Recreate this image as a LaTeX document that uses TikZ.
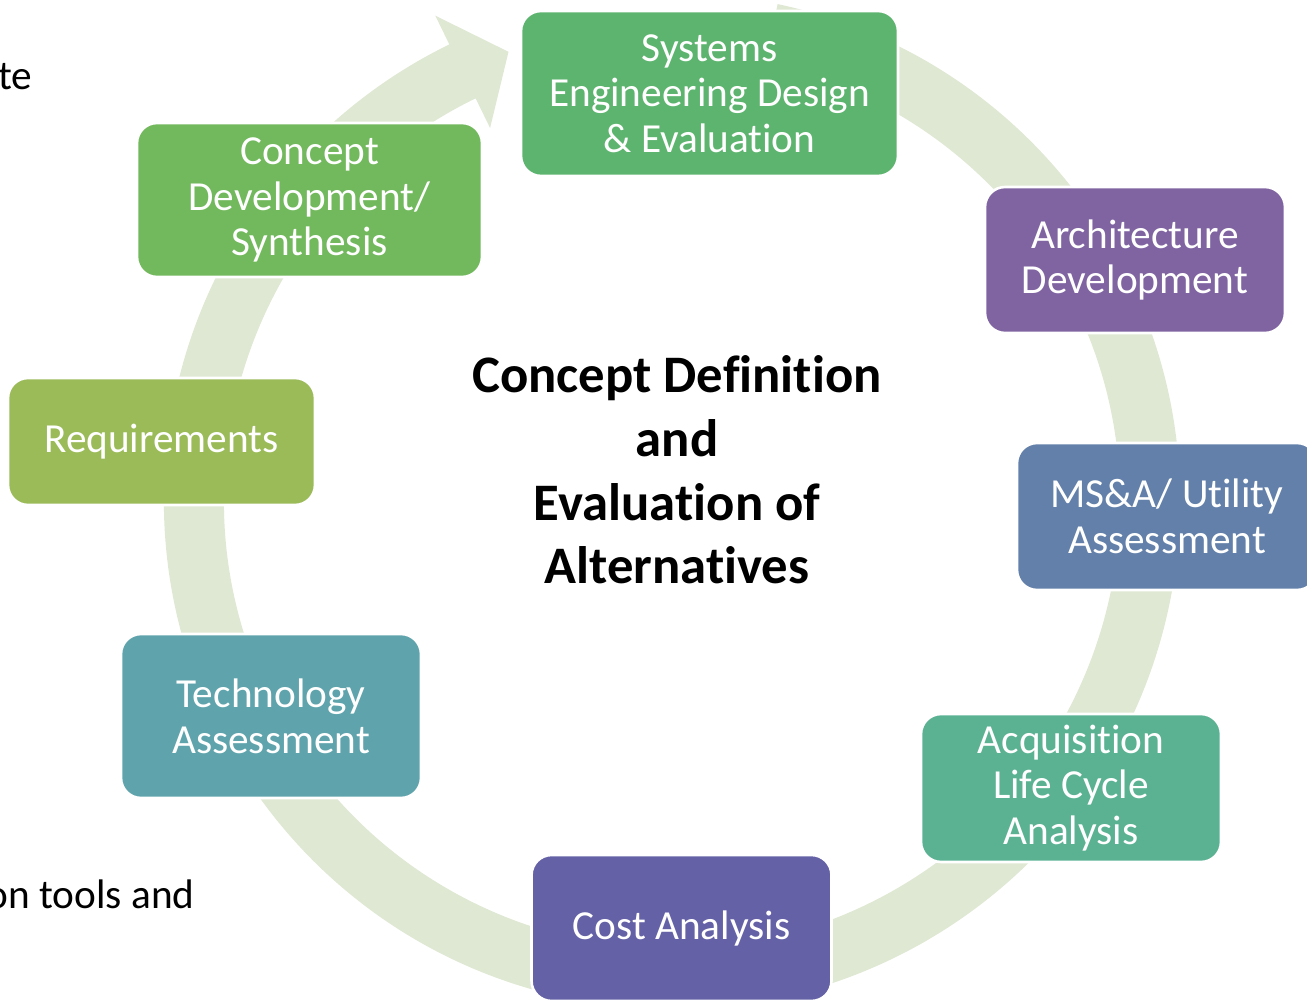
\documentclass[tikz,border=0pt]{standalone}
\usepackage{fontspec}
\setmainfont{Carlito}[Ligatures=NoCommon]
\usepackage{tikz}
\usetikzlibrary{positioning}
\definecolor{ringgreen}{RGB}{223,232,211}
\definecolor{sysgreen}{RGB}{93,180,111}
\definecolor{archpurple}{RGB}{128,100,161}
\definecolor{msablue}{RGB}{98,128,169}
\definecolor{acqteal}{RGB}{91,178,147}
\definecolor{costviolet}{RGB}{100,97,166}
\definecolor{techteal}{RGB}{95,164,172}
\definecolor{reqolive}{RGB}{155,187,89}
\definecolor{cdevgreen}{RGB}{114,184,92}
\tikzstyle{stage} = [rectangle, draw=white, line width=1.5pt, rounded corners=0.4cm, text=white, align=center, font=\fontsize{23.5}{26}\selectfont, minimum width=6cm, minimum height=2.92cm, inner sep=2pt]

\begin{document}
\begin{tikzpicture}[x=0.02cm, y=0.02cm]
    \useasboundingbox (0,0) rectangle (1307,1001);

    % Cycle ring
    \fill[ringgreen, shift={(672,500)}] (78:508) arc[start angle=78, end angle=-244, radius=508] -- (-244:540) -- (-250:478) -- (-244:415) -- (-244:448) arc[start angle=-244, end angle=78, radius=448] -- cycle;

    % Stages
    \node[stage, fill=sysgreen, minimum width=7.54cm, minimum height=3.3cm] (sys) at (709.5,907.5) {Systems\\Engineering Design\\\& Evaluation};

    \node[stage, fill=archpurple] (arch) at (1135,741) {Architecture\\Development};

    \node[stage, fill=msablue, minimum height=2.94cm] (msa) at (1167,484.5) {MS\&A/ Utility\\Assessment};

    \node[stage, fill=acqteal, minimum height=2.96cm] (acq) at (1071,213) {Acquisition\\Life Cycle\\Analysis};

    \node[stage, fill=costviolet] (cost) at (681.5,73) {Cost Analysis};

    \node[stage, fill=techteal, minimum height=3.28cm] (tech) at (271,285) {Technology\\Assessment};

    \node[stage, fill=reqolive, minimum width=6.14cm, minimum height=2.54cm] (req) at (161.5,559.5) {Requirements};

    \node[stage, fill=cdevgreen, minimum width=6.9cm, minimum height=3.08cm] (cdev) at (309.5,801) {Concept\\Development/\\Synthesis};

    % Title
    \node[align=center, font=\fontsize{30}{36.2}\bfseries\selectfont] (title) at (677,531) {Concept Definition\\and\\Evaluation of\\Alternatives};

    % Cut-off slide text
    \node[anchor=base west, inner sep=0pt, font=\fontsize{23.5}{26}\selectfont] (textte) at (-2,911) {te};
    \node[anchor=base east, inner sep=0pt, font=\fontsize{23.5}{26}\selectfont] (texttools) at (195,93) {on tools and};
\end{tikzpicture}
\end{document}
